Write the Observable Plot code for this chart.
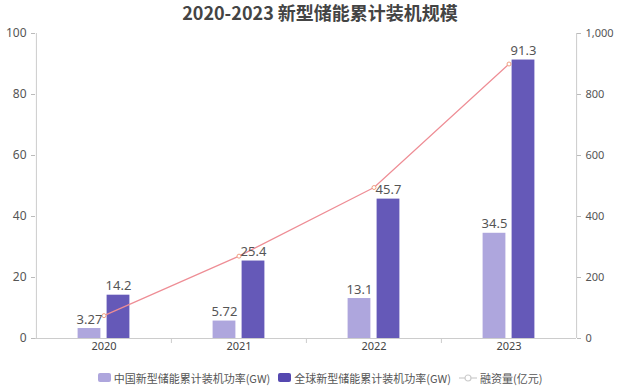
<!DOCTYPE html>
<html>
<head>
<meta charset="utf-8">
<script src="https://cdn.jsdelivr.net/npm/d3@7"></script>
<script src="https://cdn.jsdelivr.net/npm/@observablehq/plot@0.6"></script>
<style>
  html, body { margin: 0; padding: 0; background: #fff; }
  body { width: 640px; height: 386px; overflow: hidden; font-family: "Noto Sans CJK SC", "Noto Sans", sans-serif; }
  #title { height: 22px; line-height: 24px; text-align: center; font-size: 18px; font-weight: bold; color: #444; }
  #legend { display: flex; justify-content: center; align-items: center; gap: 8px; font-size: 11px; color: #555; height: 21px; margin-top: 2px; }
  .item { display: flex; align-items: center; gap: 3px; }
  .sw { width: 13px; height: 9px; border-radius: 2px; display: inline-block; }
</style>
</head>
<body>
<div id="title">2020-2023 新型储能累计装机规模</div>
<div id="chart"></div>
<div id="legend">
  <span class="item"><span class="sw" style="background:#aea6dd"></span>中国新型储能累计装机功率(GW)</span>
  <span class="item"><span class="sw" style="background:#5548b0"></span>全球新型储能累计装机功率(GW)</span>
  <span class="item"><svg width="18" height="10"><line x1="0" y1="5" x2="18" y2="5" stroke="#ccc" stroke-width="1.2"/><circle cx="9" cy="5" r="3" fill="#fff" stroke="#ccc" stroke-width="1.2"/></svg>融资量(亿元)</span>
</div>
<script>
const years = ["2020", "2021", "2022", "2023"];
const chinaGW = [3.27, 5.72, 13.1, 34.5];
const globalGW = [14.2, 25.4, 45.7, 91.3];
const financing = [75, 270, 495, 900];
const leftTicks = [0, 20, 40, 60, 80, 100];
const rightTicks = [0, 200, 400, 600, 800, 1000];

const data = years.map((year, i) => ({ year, china: chinaGW[i], global: globalGW[i], fin: financing[i] }));
const ratio = 100 / 1000;
const half = 67.6;

const chart = Plot.plot({
  width: 640,
  height: 343,
  marginLeft: 35,
  marginRight: 64,
  marginTop: 11,
  marginBottom: 27,
  style: { fontFamily: "'Noto Sans', 'Noto Sans CJK SC', sans-serif", fontSize: "11px", color: "#555" },
  x: { type: "band", domain: years, padding: 0, label: null },
  y: { domain: [0, 100], label: null },
  marks: [
    Plot.ruleX([years[0]], { y1: 0, y2: 100, dx: -half, stroke: "#ccc" }),
    Plot.ruleX([years[years.length - 1]], { y1: 0, y2: 100, dx: half, stroke: "#ccc" }),
    Plot.ruleX(years.slice(1), { y1: 0, y2: 0, insetBottom: -5, dx: -half, stroke: "#ccc" }),
    Plot.axisY({ anchor: "left", ticks: leftTicks, tickSize: 4, stroke: "#bbb", fill: "#555", fontSize: 12, label: null }),
    Plot.axisY({ anchor: "right", ticks: rightTicks.map(d => d * ratio), tickSize: 4, stroke: "#bbb", fill: "#555", fontSize: 11, tickFormat: d => d3.format(",")(Math.round(d / ratio)), label: null }),
    Plot.axisX({ tickSize: 0, tickPadding: 4, fill: "#444", fontSize: 11, label: null }),
    Plot.barY(data, { x: "year", y: "china", fill: "#aea6dd", insetLeft: 41.6, insetRight: 70.6 }),
    Plot.barY(data, { x: "year", y: "global", fill: "#6559b8", insetLeft: 70.6, insetRight: 41.6 }),
    Plot.ruleY([0], { stroke: "#ccc" }),
    Plot.line(data, { x: "year", y: d => d.fin * ratio, stroke: "#ee8d95", strokeWidth: 1.2 }),
    Plot.dot(data, { x: "year", y: d => d.fin * ratio, r: 2, fill: "#fff", stroke: "#f0a080", strokeWidth: 1 }),
    Plot.text(data, { x: "year", y: "china", text: d => String(d.china), dx: -14.5, dy: -9, fill: "#555", fontSize: 13 }),
    Plot.text(data, { x: "year", y: "global", text: d => String(d.global), dx: 14.5, dy: -9, fill: "#555", fontSize: 13 })
  ]
});
document.getElementById("chart").appendChild(chart);
</script>
</body>
</html>
